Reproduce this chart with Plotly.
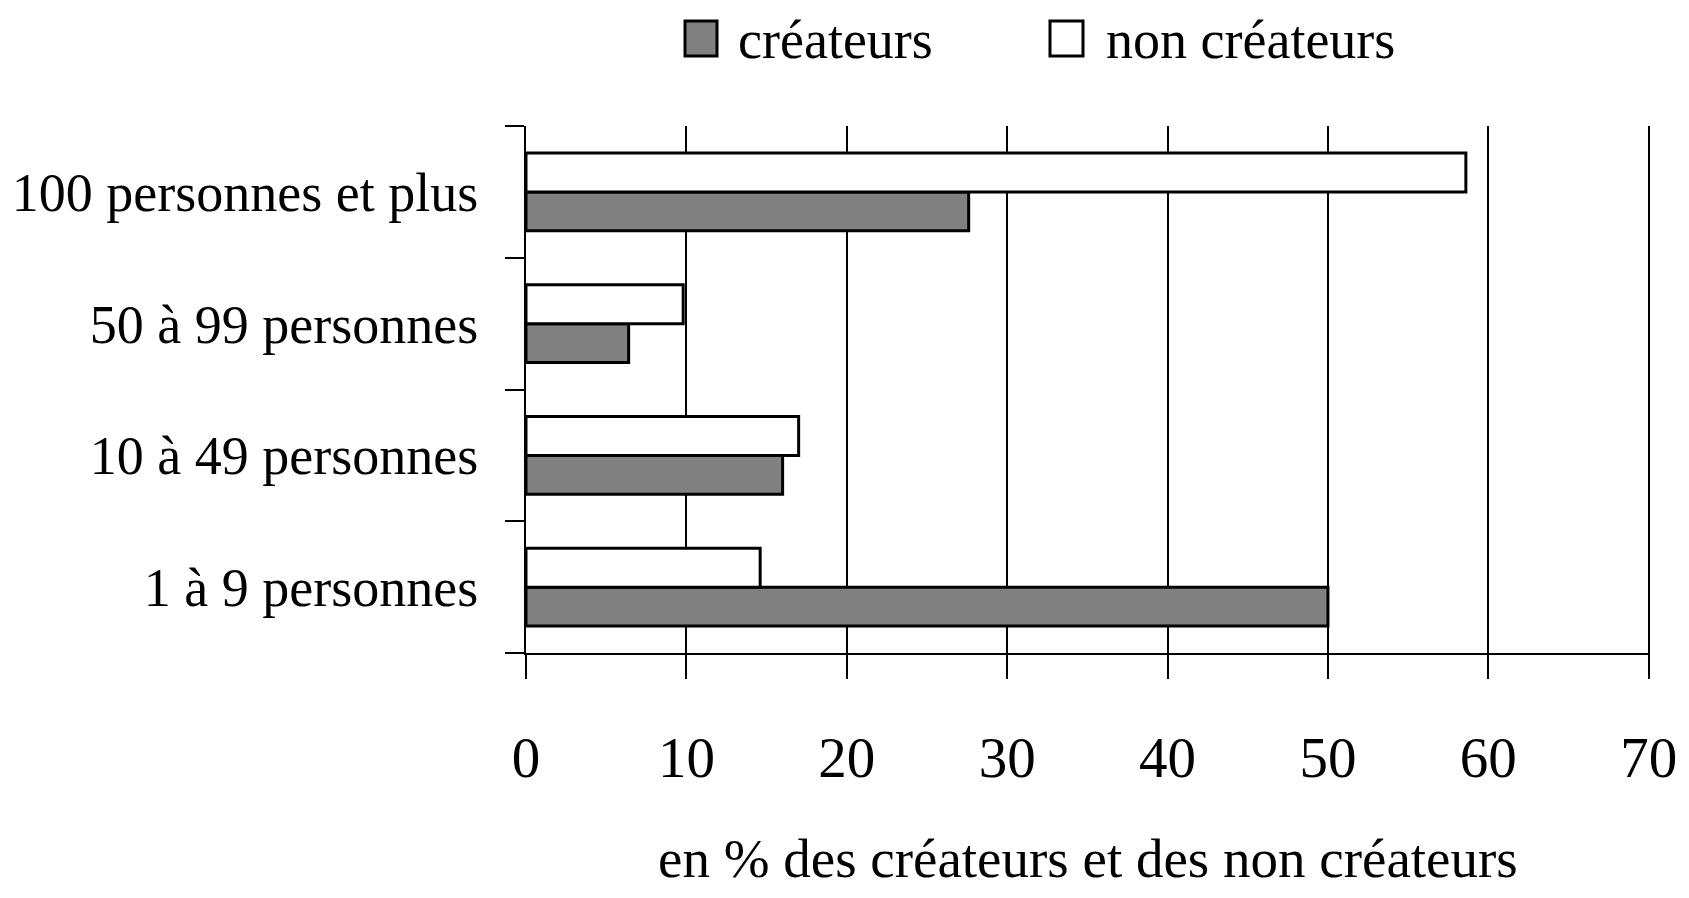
import plotly.graph_objects as go

categories = ["1 à 9 personnes", "10 à 49 personnes", "50 à 99 personnes", "100 personnes et plus"]
createurs = [50.0, 16.0, 6.4, 27.6]
non_createurs = [14.6, 17.0, 9.8, 58.6]
x_ticks = [0, 10, 20, 30, 40, 50, 60, 70]
series_names = ["créateurs", "non créateurs"]
x_title = "en % des créateurs et des non créateurs"

FONT = "Liberation Serif, Times New Roman, serif"
GREY = "#808080"

# page body has an 8px default margin; compensate so the page matches the reference
OFF = 8
PAGE_W, PAGE_H = 1689, 898
W, H = PAGE_W - 2 * OFF, PAGE_H - 2 * OFF
# plot area in page pixels
PL, PR, PT, PB = 526, 1650, 126, 653
L, T = PL - OFF, PT - OFF
R = W - (PR - OFF)
B = H - (PB - OFF)
pw, ph = PR - PL, PB - PT


def px_to_paper_x(px):
    return (px - PL) / pw


def px_to_paper_y(py):
    return (PB - py) / ph


fig = go.Figure()
fig.add_trace(go.Bar(y=categories, x=createurs, orientation="h", name=series_names[0],
                     marker=dict(color=GREY, line=dict(color="black", width=3))))
fig.add_trace(go.Bar(y=categories, x=non_createurs, orientation="h", name=series_names[1],
                     marker=dict(color="white", line=dict(color="black", width=3))))

fig.update_layout(
    width=W, height=H,
    margin=dict(l=L, r=R, t=T, b=B, autoexpand=False),
    plot_bgcolor="white", paper_bgcolor="white",
    barmode="group", bargap=0.41, bargroupgap=0,
    showlegend=False,
    font=dict(family=FONT, color="black"),
)

fig.update_xaxes(
    range=[0, 70.08], tickvals=x_ticks, ticktext=[str(v) for v in x_ticks],
    showgrid=True, gridcolor="black", gridwidth=2,
    showline=True, linecolor="black", linewidth=2,
    ticks="outside", ticklen=24, tickwidth=2, tickcolor="black",
    zeroline=False, automargin=False,
    tickfont=dict(family=FONT, size=57, color="black"),
    ticklabelstandoff=30,
)
fig.update_yaxes(
    type="category", categoryorder="array", categoryarray=categories,
    showline=True, linecolor="black", linewidth=2,
    ticks="outside", ticklen=19, tickwidth=2, tickcolor="black",
    tickson="boundaries", showgrid=False, zeroline=False, automargin=False,
    tickfont=dict(family=FONT, size=54, color="black"),
    ticklabelstandoff=35,
)

# x-axis title
fig.add_annotation(text=x_title, xref="paper", yref="paper",
                   x=0.5, y=px_to_paper_y(858), xanchor="center", yanchor="middle",
                   showarrow=False, font=dict(family=FONT, size=55, color="black"))

# manual legend (page pixel positions)
legend_items = [
    (series_names[0], GREY, 685, 717, 736),
    (series_names[1], "white", 1050, 1083, 1104),
]
for name, col, bx0, bx1, tx in legend_items:
    fig.add_shape(type="rect", xref="paper", yref="paper",
                  x0=px_to_paper_x(bx0), x1=px_to_paper_x(bx1),
                  y0=px_to_paper_y(56), y1=px_to_paper_y(21),
                  fillcolor=col, line=dict(color="black", width=3))
    fig.add_annotation(text=name, xref="paper", yref="paper",
                       x=px_to_paper_x(tx), y=px_to_paper_y(40),
                       xanchor="left", yanchor="middle", showarrow=False,
                       font=dict(family=FONT, size=54, color="black"))

fig.write_html("out.html")
